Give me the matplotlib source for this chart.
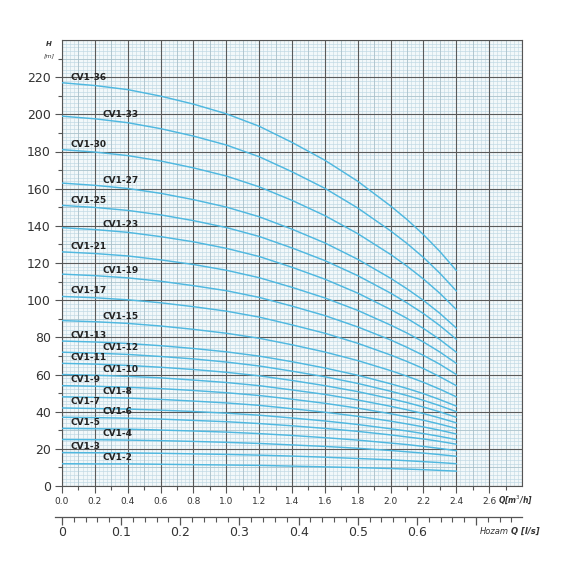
import numpy as np
import matplotlib.pyplot as plt
from matplotlib.ticker import FixedLocator

q_points = [0.0, 0.2, 0.4, 0.6, 0.8, 1.0, 1.2, 1.4, 1.6, 1.8, 2.0, 2.1, 2.2, 2.3, 2.4]

# head (m) per model
h_36 = [217, 215.5, 213.3, 209.8, 205.5, 200.3, 193.6, 184.9, 175.3, 164.0, 150.7, 143.4, 135.3, 126.2, 116]
h_33 = [199, 197.6, 195.5, 192.3, 188.3, 183.5, 177.2, 169.1, 160.2, 149.6, 137.3, 130.5, 123.0, 114.5, 105]
h_30 = [181, 179.7, 177.8, 174.9, 171.2, 166.8, 161.0, 153.7, 145.5, 135.8, 124.6, 118.3, 111.4, 103.7, 95]
h_27 = [163, 161.8, 160.1, 157.5, 154.1, 150.1, 144.9, 138.2, 130.8, 122.0, 111.8, 106.1, 99.9, 92.9, 85]
h_25 = [151, 149.9, 148.3, 145.9, 142.8, 139.1, 134.3, 128.1, 121.3, 113.2, 103.8, 98.5, 92.8, 86.3, 79]
h_23 = [139, 138.0, 136.5, 134.2, 131.4, 127.9, 123.5, 117.7, 111.3, 103.8, 95.0, 90.2, 84.8, 78.8, 72]
h_21 = [126, 125.1, 123.8, 121.7, 119.2, 116.1, 112.1, 106.9, 101.2, 94.5, 86.6, 82.3, 77.5, 72.1, 66]
h_19 = [114, 113.2, 112.0, 110.2, 107.8, 105.1, 101.5, 96.8, 91.7, 85.6, 78.6, 74.6, 70.3, 65.5, 60]
h_17 = [102, 101.3, 100.2, 98.6, 96.5, 94.1, 90.9, 86.7, 82.2, 76.8, 70.5, 67.0, 63.2, 58.8, 54]
h_15 = [89, 88.4, 87.5, 86.1, 84.3, 82.2, 79.5, 76.0, 72.1, 67.5, 62.1, 59.1, 55.8, 52.1, 48]
h_13 = [78, 77.5, 76.7, 75.5, 74.0, 72.2, 69.9, 66.9, 63.5, 59.6, 55.0, 52.5, 49.7, 46.5, 43]
h_12 = [72, 71.5, 70.8, 69.7, 68.4, 66.7, 64.6, 61.8, 58.8, 55.2, 51.0, 48.7, 46.1, 43.2, 40]
h_11 = [66, 65.6, 64.9, 63.9, 62.7, 61.2, 59.3, 56.8, 54.0, 50.8, 47.0, 44.9, 42.5, 39.9, 37]
h_10 = [60, 59.6, 59.0, 58.2, 57.0, 55.7, 54.0, 51.7, 49.3, 46.3, 42.9, 41.0, 39.0, 36.6, 34]
h_9 = [54, 53.7, 53.1, 52.4, 51.4, 50.2, 48.7, 46.7, 44.5, 41.9, 38.9, 37.2, 35.4, 33.3, 31]
h_8 = [48, 47.7, 47.3, 46.6, 45.7, 44.7, 43.4, 41.6, 39.7, 37.5, 34.9, 33.4, 31.8, 30.0, 28]
h_7 = [42, 41.7, 41.4, 40.8, 40.1, 39.2, 38.1, 36.6, 35.0, 33.1, 30.8, 29.6, 28.2, 26.7, 25]
h_6 = [37, 36.8, 36.5, 36.0, 35.3, 34.6, 33.6, 32.4, 31.0, 29.4, 27.5, 26.4, 25.3, 24.0, 22.5]
h_5 = [31, 30.8, 30.6, 30.1, 29.6, 29.0, 28.2, 27.2, 26.0, 24.7, 23.1, 22.3, 21.3, 20.2, 19]
h_4 = [25, 24.9, 24.7, 24.4, 24.0, 23.5, 22.9, 22.1, 21.3, 20.3, 19.1, 18.4, 17.7, 16.9, 16]
h_3 = [18, 17.9, 17.8, 17.6, 17.3, 17.0, 16.6, 16.1, 15.5, 14.8, 14.1, 13.6, 13.1, 12.6, 12]
h_2 = [12, 11.9, 11.9, 11.7, 11.5, 11.3, 11.1, 10.7, 10.3, 9.9, 9.4, 9.1, 8.8, 8.4, 8]

models = ['CV1-36', 'CV1-33', 'CV1-30', 'CV1-27', 'CV1-25', 'CV1-23', 'CV1-21',
          'CV1-19', 'CV1-17', 'CV1-15', 'CV1-13', 'CV1-12', 'CV1-11', 'CV1-10',
          'CV1-9', 'CV1-8', 'CV1-7', 'CV1-6', 'CV1-5', 'CV1-4', 'CV1-3', 'CV1-2']
heads = [h_36, h_33, h_30, h_27, h_25, h_23, h_21, h_19, h_17, h_15, h_13,
         h_12, h_11, h_10, h_9, h_8, h_7, h_6, h_5, h_4, h_3, h_2]
left_labels = ['CV1-36', 'CV1-30', 'CV1-25', 'CV1-21', 'CV1-17', 'CV1-13',
               'CV1-11', 'CV1-9', 'CV1-7', 'CV1-5', 'CV1-3']

x_tick_labels = ['0.0', '0.2', '0.4', '0.6', '0.8', '1.0', '1.2', '1.4',
                 '1.6', '1.8', '2.0', '2.2', '2.4', '2.6']
y_tick_labels = ['0', '20', '40', '60', '80', '100', '120', '140', '160',
                 '180', '200', '220']
ls_tick_labels = ['0', '0.1', '0.2', '0.3', '0.4', '0.5', '0.6', '']

txt_col = '#333333'
curve_col = '#4fb8e0'
label_font = ['Liberation Sans Narrow', 'DejaVu Sans']

fig = plt.figure(figsize=(5.7, 5.7), dpi=100)
ax = fig.add_axes([62/570, 1-486/570, 460/570, 446/570])
ax.set_xlim(0, 2.8)
ax.set_ylim(0, 240)
ax.set_facecolor('#f2f8fa')

# paper grid: fine, medium and heavy lines
ax.vlines(np.arange(0, 2.8, 0.025), 0, 240, color='#c8dbe2', lw=0.45, zorder=0)
ax.hlines(np.arange(0, 240, 2), 0, 2.8, color='#bcd8e4', lw=0.45, zorder=0)
ax.vlines(np.arange(0, 2.8, 0.1), 0, 240, color='#a5bcc5', lw=0.5, zorder=0)
ax.hlines(np.arange(0, 240, 10), 0, 2.8, color='#a9c0c9', lw=0.5, zorder=0)
ax.vlines(np.arange(0, 2.81, 0.2), 0, 240, color='#5a5a5a', lw=0.8, zorder=1)
ax.hlines(np.arange(0, 241, 20), 0, 2.8, color='#5a5a5a', lw=0.8, zorder=1)

for name, h in zip(models, heads):
    ax.plot(q_points, h, color=curve_col, lw=1.05, zorder=3)
    lq = 0.05 if name in left_labels else 0.245
    ly = np.interp(lq + 0.06, q_points, h) + 1.0
    ax.text(lq, ly, name, fontsize=6.5, fontweight='bold', family=label_font,
            color='#222222', ha='left', va='bottom', zorder=4)

ax.set_xticks(np.arange(0, 2.7, 0.2))
ax.set_xticklabels(x_tick_labels, fontsize=6.5, color=txt_col)
ax.xaxis.set_minor_locator(FixedLocator(np.arange(0.1, 2.81, 0.2)))
ax.set_yticks(np.arange(0, 221, 20))
ax.set_yticklabels(y_tick_labels, fontsize=9, color=txt_col)
ax.yaxis.set_minor_locator(FixedLocator(np.arange(10, 241, 20)))
ax.tick_params(axis='both', which='major', length=5, width=0.8, color='#555555', pad=3)
ax.tick_params(axis='both', which='minor', length=3, width=0.8, color='#555555')
for s in ax.spines.values():
    s.set_color('#555555')
    s.set_linewidth(0.8)

fig.text(49/570, 1-44/570, 'H', fontsize=5, style='italic', fontweight='bold',
         color=txt_col, ha='center', va='center')
fig.text(49/570, 1-56/570, '[m]', fontsize=4.5, style='italic',
         color=txt_col, ha='center', va='center')
fig.text(498/570, 1-500/570, r'Q[m$^3$/h]', fontsize=5.5, style='italic',
         fontweight='bold', color=txt_col, ha='left', va='center')

# second scale in l/s
ax2 = fig.add_axes([55/570, 1-517/570, 467/570, 0.0001])
ax2.set_xlim(-7/590.4, 2.8/3.6)
ax2.set_ylim(0, 1)
for side in ['top', 'left', 'right']:
    ax2.spines[side].set_visible(False)
ax2.spines['bottom'].set_color('#555555')
ax2.spines['bottom'].set_linewidth(0.9)
ax2.set_yticks([])
ax2.set_xticks(np.arange(0, 0.71, 0.1))
ax2.set_xticklabels(ls_tick_labels, fontsize=9, color=txt_col)
ax2.xaxis.set_minor_locator(FixedLocator(np.arange(0.02, 0.78, 0.02)))
ax2.tick_params(axis='x', which='major', length=6, width=0.9, color='#555555', pad=0.5)
ax2.tick_params(axis='x', which='minor', length=3.5, width=0.8, color='#555555')
ax2.patch.set_visible(False)

fig.text(509/570, 1-531/570, 'Hozam', fontsize=6, style='italic',
         color=txt_col, ha='right', va='center')
fig.text(511/570, 1-531/570, 'Q [l/s]', fontsize=6, style='italic',
         fontweight='bold', color=txt_col, ha='left', va='center')

fig.savefig('out.png', dpi=100)
